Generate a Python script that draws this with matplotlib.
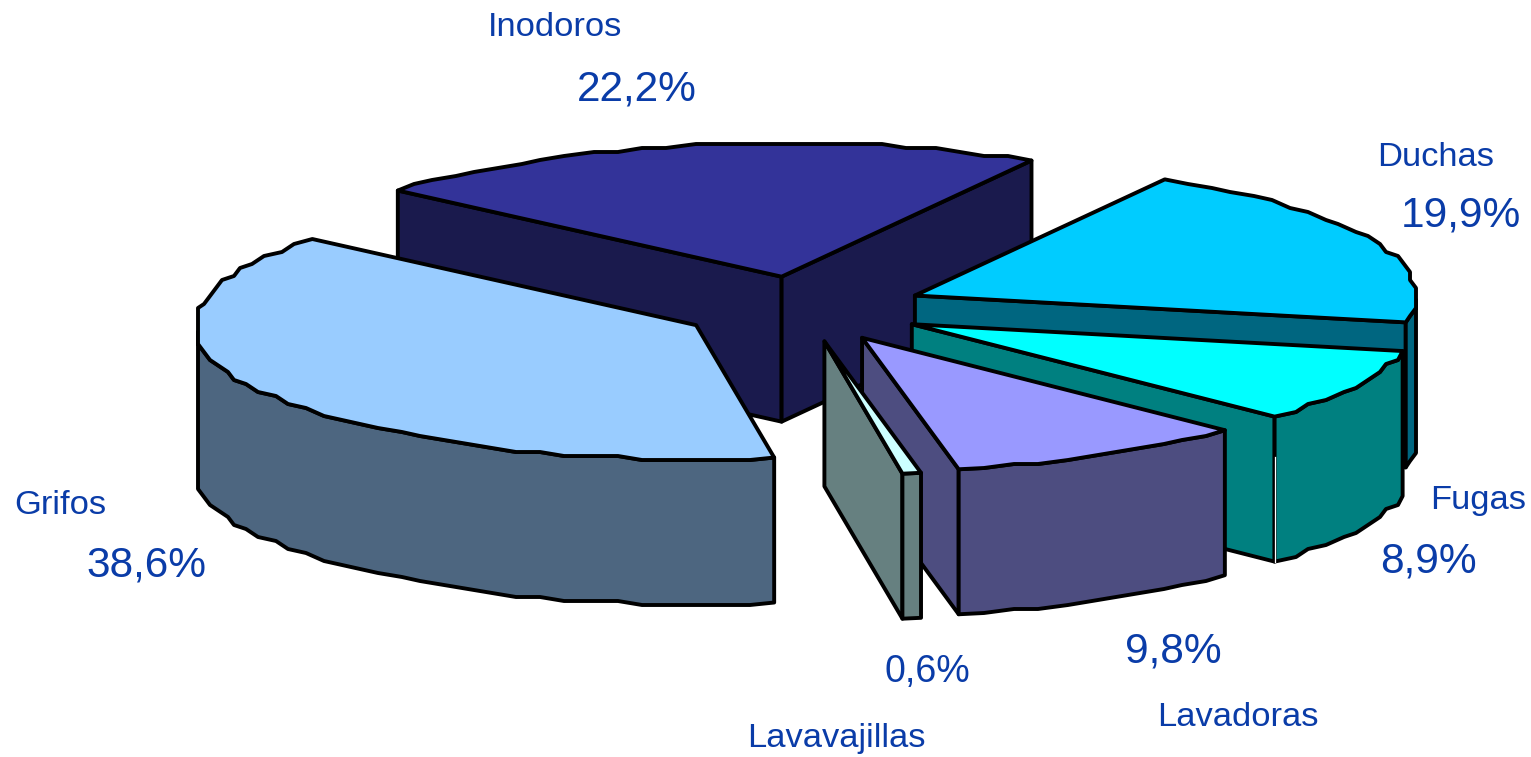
import numpy as np
import matplotlib
matplotlib.use('Agg')
import matplotlib.pyplot as plt
from matplotlib.patches import Polygon

# data
categories = ['Inodoros', 'Duchas', 'Fugas', 'Lavadoras', 'Lavavajillas', 'Grifos']
shares = [22.2, 19.9, 8.9, 9.8, 0.6, 38.6]

# styles, one per slice
top_colors = ['#333399', '#00ccff', '#00ffff', '#9999ff', '#ccffff', '#99ccff']
side_colors = ['#1a1a4d', '#006680', '#008080', '#4d4d80', '#668080', '#4d6680']
name_xy = [(555, 28), (1436, 157), (1478, 500), (1238, 718), (836, 739), (60, 506)]
share_xy = [(637, 90), (1461, 216), (1428, 562), (1173, 651), (927, 672), (146, 566)]
share_size = [30.5, 30.5, 30.5, 30.5, 27, 30.5]

# pie geometry, in pixels of the figure
center = (803, 309)
rx, ry = 501, 134
depth = 145
explode = 0.245
start_angle = -50.0
text_color = '#0a3ca8'
outline = 2.8

plt.rcParams['font.family'] = ['Liberation Sans', 'DejaVu Sans']


def rim(cx, cy, a0, a1):
    # elliptical arc, clockwise from the top, with the coarse steps of the old chart
    n = max(int((a1 - a0) / 3.0), 1)
    a = np.linspace(a0, a1, n + 1)
    t = np.radians(a)
    x = cx + rx * np.sin(t)
    y = cy - ry * np.cos(t)
    x[1:-1] = np.round(x[1:-1] / 6.0) * 6.0
    y[1:-1] = np.round(y[1:-1] / 4.0) * 4.0
    return a, np.column_stack([x, y])


def face(ax, pts, color, z):
    ax.add_patch(Polygon(pts, closed=True, facecolor=color, edgecolor='black',
                         linewidth=outline, joinstyle='round', zorder=z))


fig = plt.figure(figsize=(15.31, 7.57), dpi=100)
ax = fig.add_axes([0, 0, 1, 1])
ax.set_xlim(0, 1531)
ax.set_ylim(757, 0)
ax.axis('off')

angle = start_angle
for i, share in enumerate(shares):
    a0, a1 = angle, angle + share * 3.6
    angle = a1
    mid = np.radians((a0 + a1) / 2)
    cx = center[0] + explode * rx * np.sin(mid)
    cy = center[1] - explode * ry * np.cos(mid)
    apex = np.array([[cx, cy]])
    drop = np.array([0, depth])
    z = i * 10
    angles, arc = rim(cx, cy, a0, a1)

    # radial walls, only those turned towards the viewer
    for a, sign in ((a0, -1), (a1, 1)):
        t = np.radians(a)
        edge = np.array([cx + rx * np.sin(t), cy - ry * np.cos(t)])
        if sign * np.sin(t) > 0:
            quad = np.vstack([apex, edge, edge + drop, apex + drop])
            face(ax, quad, side_colors[i], z + 1)

    # outer wall, front half of the ellipse only, same steps as the top
    front = arc[(angles >= 90.0) & (angles <= 270.0)]
    if len(front) > 1:
        face(ax, np.vstack([front, (front + drop)[::-1]]), side_colors[i], z + 2)

    face(ax, np.vstack([apex, arc]), top_colors[i], z + 3)

    # the original has a thin light slit where the two Fugas walls meet
    if categories[i] == 'Fugas':
        ax.plot([arc[-1, 0]] * 2, [arc[-1, 1] + 40, arc[-1, 1] + depth], color='white',
                linewidth=0.9, zorder=z + 4)

    pct = f'{share:.1f}%'.replace('.', ',')
    ax.text(*name_xy[i], categories[i], color=text_color, fontsize=24.8,
            ha='center', va='center', zorder=100)
    ax.text(*share_xy[i], pct, color=text_color, fontsize=share_size[i],
            ha='center', va='center', zorder=100)

fig.savefig('out.png', dpi=100, facecolor='white')
